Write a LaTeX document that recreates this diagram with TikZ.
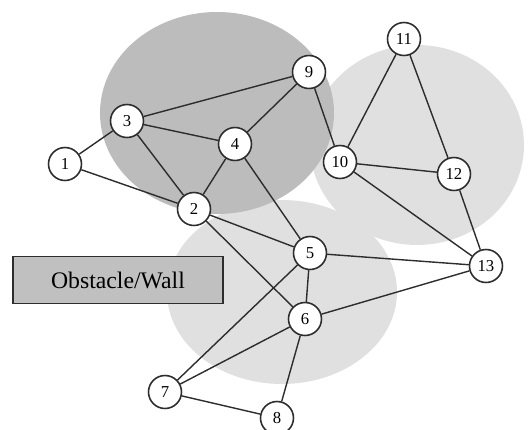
\documentclass[tikz,border=0pt]{standalone}
\usepackage{fontspec}
\setmainfont{Liberation Serif}
\usepackage{xcolor}
\definecolor{blobdark}{RGB}{188, 188, 188}
\definecolor{bloblight}{RGB}{224, 224, 224}
\definecolor{wallgray}{RGB}{192, 192, 192}
\definecolor{linegray}{RGB}{45, 45, 45}
\usepackage{tikz}
\usetikzlibrary{positioning}

\begin{document}
\begin{tikzpicture}[x=0.02cm, y=-0.02cm,
        sensor/.style={circle, draw=linegray, fill=white, line width=0.9pt, minimum size=0.66cm, inner sep=0pt, font=\fontsize{9.5}{10}\selectfont},
        wall/.style={rectangle, draw=linegray, fill=wallgray, line width=0.8pt, minimum width=4.2cm, minimum height=0.94cm, font=\fontsize{13.5}{16}\selectfont},
        link/.style={draw=linegray, line width=0.8pt}]
        \useasboundingbox (0,0) rectangle (529,430);

        % Zonas de cobertura (fondo)
        \fill [bloblight] (417,145) ellipse [x radius=107, y radius=100];
        \fill [bloblight] (282,292) ellipse [x radius=115, y radius=92];
        \fill [blobdark] (217,113) ellipse [x radius=117, y radius=101];

        % Obstaculo
        \node [wall] (obst) at (118,280) {Obstacle/Wall};

        % Nodos
        \node [sensor] (n1) at (65,164) {1};
        \node [sensor] (n2) at (194,209) {2};
        \node [sensor] (n3) at (127,121) {3};
        \node [sensor] (n4) at (235,144) {4};
        \node [sensor] (n5) at (310,253) {5};
        \node [sensor] (n6) at (305,319) {6};
        \node [sensor] (n7) at (165,392) {7};
        \node [sensor] (n8) at (277,418) {8};
        \node [sensor] (n9) at (309,72) {9};
        \node [sensor] (n10) at (340,162) {10};
        \node [sensor] (n11) at (404,39) {11};
        \node [sensor] (n12) at (454,174) {12};
        \node [sensor] (n13) at (486,266) {13};

        % Enlaces
        \foreach \a/\b in {n1/n3, n1/n2, n3/n9, n3/n4, n3/n2, n4/n9, n4/n2, n4/n5,
                n9/n10, n10/n11, n11/n12, n10/n12, n10/n13, n12/n13,
                n2/n5, n2/n6, n5/n13, n5/n6, n5/n7, n6/n13, n6/n7, n6/n8, n7/n8}
            \path [link] (\a) -- (\b);
    \end{tikzpicture}
\end{document}
